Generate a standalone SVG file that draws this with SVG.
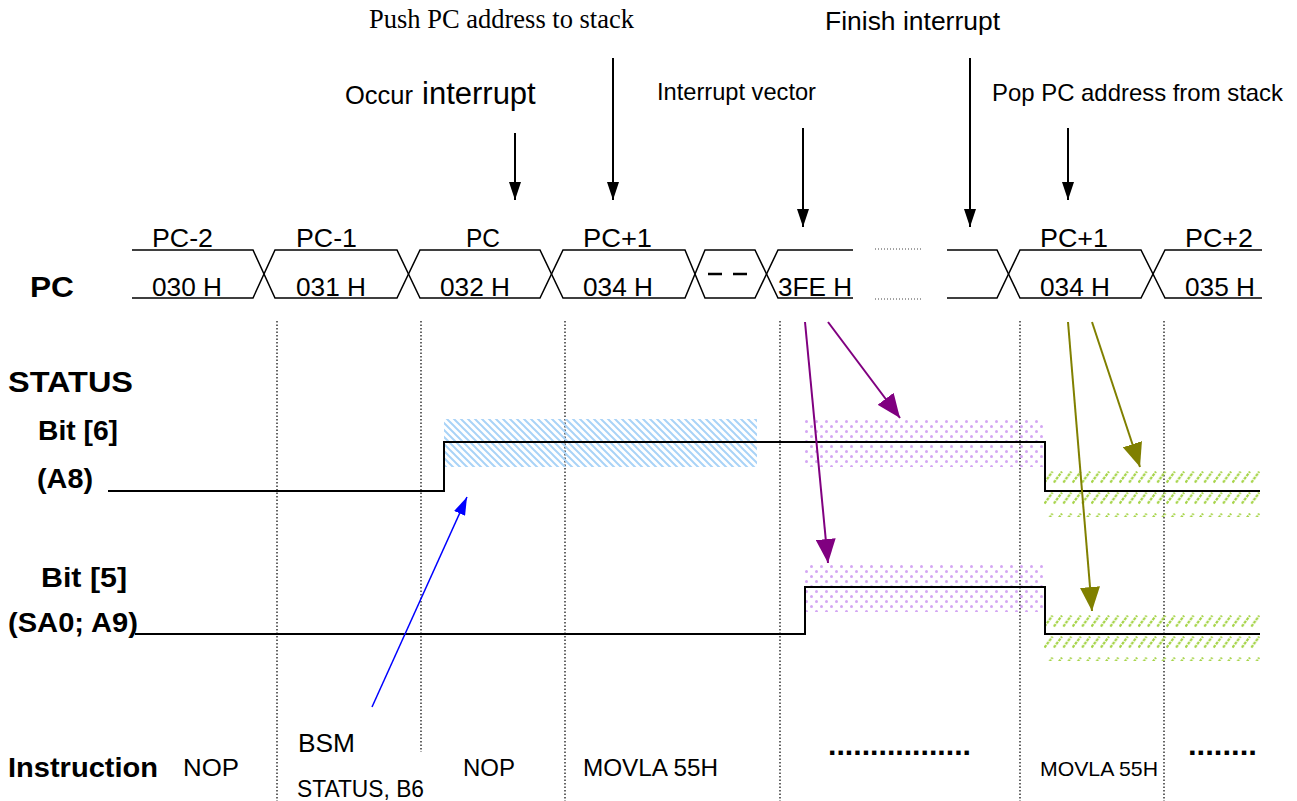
<svg xmlns="http://www.w3.org/2000/svg" width="1297" height="801" viewBox="0 0 1297 801">
<style>
.s{font-family:"Liberation Sans",Arial,sans-serif;fill:#000}
.b{font-family:"Liberation Sans",Arial,sans-serif;font-weight:bold;fill:#000}
.serif{font-family:"Liberation Serif","Times New Roman",serif;fill:#000}
.pc{font-size:26px}
.bl{font-size:28px}
.ins{font-size:24px}
.bus{stroke:#000;stroke-width:1.5;fill:none}
.sig{stroke:#000;stroke-width:2;fill:none}
.grid{stroke:#000;stroke-width:1.2;stroke-dasharray:1.5 2;fill:none}
.dots{stroke:#444;stroke-width:1;stroke-dasharray:1 2;fill:none}
.ak{stroke:#000;stroke-width:2}
</style>
<defs>
<marker id="ahK" markerUnits="userSpaceOnUse" markerWidth="18" markerHeight="12" refX="18" refY="6" orient="auto"><path d="M0,0 L18,6 L0,12 z" fill="#000"/></marker>
<marker id="ahP" markerUnits="userSpaceOnUse" markerWidth="24" markerHeight="20" refX="24" refY="10" orient="auto"><path d="M0,0 L24,10 L0,20 z" fill="#800080"/></marker>
<marker id="ahO" markerUnits="userSpaceOnUse" markerWidth="24" markerHeight="20" refX="24" refY="10" orient="auto"><path d="M0,0 L24,10 L0,20 z" fill="#808000"/></marker>
<marker id="ahB" markerUnits="userSpaceOnUse" markerWidth="18" markerHeight="12" refX="18" refY="6" orient="auto"><path d="M0,0 L18,6 L0,12 z" fill="#0000ff"/></marker>
<pattern id="hatchBlue" patternUnits="userSpaceOnUse" width="7" height="7">
<path d="M-1,-1 L8,8 M-1,6 L1,8 M6,-1 L8,1" stroke="#a9d3f7" stroke-width="2"/>
</pattern>
<pattern id="dotPurple" patternUnits="userSpaceOnUse" width="10" height="10" x="804" y="419">
<circle cx="2.5" cy="2.5" r="1.5" fill="#d4a6f3"/>
<circle cx="7.5" cy="7.5" r="1.5" fill="#d4a6f3"/>
</pattern>
<pattern id="hatchGreen" patternUnits="userSpaceOnUse" width="9.4" height="21" x="1044" y="471">
<path d="M0.5,11.5 L8.5,0.5" stroke="#a6d448" stroke-width="2.2" stroke-dasharray="3 1"/>
</pattern>
<pattern id="hatchGreen2" patternUnits="userSpaceOnUse" width="9.4" height="21" x="1044" y="615">
<path d="M0.5,11.5 L8.5,0.5" stroke="#a6d448" stroke-width="2.2" stroke-dasharray="3 1"/>
</pattern>
</defs>

<g id="grid-lines">
<line class="grid" x1="277" y1="321" x2="277" y2="801"/>
<line class="grid" x1="421" y1="321" x2="421" y2="752"/>
<line class="grid" x1="565" y1="321" x2="565" y2="801"/>
<line class="grid" x1="780" y1="321" x2="780" y2="801"/>
<line class="grid" x1="1020" y1="321" x2="1020" y2="801"/>
<line class="grid" x1="1164" y1="321" x2="1164" y2="801"/>
</g>

<g id="shading">
<rect x="444" y="419" width="313" height="48" fill="url(#hatchBlue)"/>
<rect x="804" y="419" width="239" height="48" fill="url(#dotPurple)"/>
<rect x="804" y="563" width="239" height="49" fill="url(#dotPurple)"/>
<rect x="1044" y="471" width="216" height="46" fill="url(#hatchGreen)"/>
<rect x="1044" y="615" width="216" height="46" fill="url(#hatchGreen2)"/>
</g>

<g id="pc-bus">
<path class="bus" d="M132,250 H253 L275,298 H397 L420,250 H540 L563,298 H685 L705,250 H755 L778,298 H853"/>
<path class="bus" d="M132,298 H253 L275,250 H397 L420,298 H540 L563,250 H685 L705,298 H755 L778,250 H853"/>
<path class="bus" d="M947,250 H997 L1020,298 H1141 L1165,250 H1262"/>
<path class="bus" d="M947,298 H997 L1020,250 H1141 L1165,298 H1262"/>
<line x1="708" y1="274" x2="750" y2="274" stroke="#000" stroke-width="2.6" stroke-dasharray="14 11"/>
<line class="dots" x1="875" y1="249" x2="923" y2="249"/>
<line class="dots" x1="875" y1="299" x2="923" y2="299"/>
<text class="s pc" x="152" y="247" textLength="61" lengthAdjust="spacingAndGlyphs">PC-2</text>
<text class="s pc" x="296" y="247" textLength="61" lengthAdjust="spacingAndGlyphs">PC-1</text>
<text class="s pc" x="466" y="247" textLength="34" lengthAdjust="spacingAndGlyphs">PC</text>
<text class="s pc" x="583" y="247" textLength="69" lengthAdjust="spacingAndGlyphs">PC+1</text>
<text class="s pc" x="1040" y="247" textLength="68" lengthAdjust="spacingAndGlyphs">PC+1</text>
<text class="s pc" x="1185" y="247" textLength="68" lengthAdjust="spacingAndGlyphs">PC+2</text>
<text class="s pc" x="152" y="296" textLength="70" lengthAdjust="spacingAndGlyphs">030 H</text>
<text class="s pc" x="296" y="296" textLength="70" lengthAdjust="spacingAndGlyphs">031 H</text>
<text class="s pc" x="440" y="296" textLength="70" lengthAdjust="spacingAndGlyphs">032 H</text>
<text class="s pc" x="583" y="296" textLength="70" lengthAdjust="spacingAndGlyphs">034 H</text>
<text class="s pc" x="778" y="296" textLength="74" lengthAdjust="spacingAndGlyphs">3FE H</text>
<text class="s pc" x="1040" y="296" textLength="70" lengthAdjust="spacingAndGlyphs">034 H</text>
<text class="s pc" x="1185" y="296" textLength="70" lengthAdjust="spacingAndGlyphs">035 H</text>
</g>

<g id="labels">
<text class="b" x="30" y="297" font-size="29" textLength="44" lengthAdjust="spacingAndGlyphs">PC</text>
<text class="b" x="8" y="392" font-size="30" textLength="125" lengthAdjust="spacingAndGlyphs">STATUS</text>
<text class="b bl" x="38" y="440" textLength="80" lengthAdjust="spacingAndGlyphs">Bit [6]</text>
<text class="b bl" x="37" y="488" textLength="56" lengthAdjust="spacingAndGlyphs">(A8)</text>
<text class="b bl" x="41" y="587" textLength="86" lengthAdjust="spacingAndGlyphs">Bit [5]</text>
<text class="b bl" x="8" y="632" textLength="130" lengthAdjust="spacingAndGlyphs">(SA0; A9)</text>
<text class="b bl" x="8" y="777" textLength="150" lengthAdjust="spacingAndGlyphs">Instruction</text>
</g>

<g id="annotations">
<text class="serif" x="369" y="28" font-size="26.5" textLength="265" lengthAdjust="spacingAndGlyphs">Push PC address to stack</text>
<text class="s" y="104"><tspan x="345" font-size="25.5">Occur</tspan><tspan x="422" font-size="31">interrupt</tspan></text>
<text class="s" x="657" y="100" font-size="24" textLength="159" lengthAdjust="spacingAndGlyphs">Interrupt vector</text>
<text class="s" x="825" y="30" font-size="26.5" textLength="175" lengthAdjust="spacingAndGlyphs">Finish interrupt</text>
<text class="s" x="992" y="101" font-size="24" textLength="291" lengthAdjust="spacingAndGlyphs">Pop PC address from stack</text>
</g>

<g id="status-signals">
<path class="sig" d="M108,491 H444 V442 H1045 V491 H1260"/>
<path class="sig" d="M135,634 H805 V587 H1045 V634 H1260"/>
</g>

<g id="instructions">
<text class="s ins" x="183" y="776" textLength="56" lengthAdjust="spacingAndGlyphs">NOP</text>
<text class="s" x="298" y="752" font-size="25" textLength="57" lengthAdjust="spacingAndGlyphs">BSM</text>
<text class="s ins" x="297" y="797" textLength="127" lengthAdjust="spacingAndGlyphs">STATUS, B6</text>
<text class="s ins" x="463" y="776" textLength="52" lengthAdjust="spacingAndGlyphs">NOP</text>
<text class="s ins" x="583" y="776" textLength="135" lengthAdjust="spacingAndGlyphs">MOVLA 55H</text>
<text class="b" x="828" y="755" font-size="30" textLength="143" lengthAdjust="spacingAndGlyphs">.................</text>
<text class="s" x="1040" y="776" font-size="21" textLength="118" lengthAdjust="spacingAndGlyphs">MOVLA 55H</text>
<text class="b" x="1188" y="755" font-size="30" textLength="69" lengthAdjust="spacingAndGlyphs">........</text>
</g>

<g id="connectors">
<line class="ak" x1="515" y1="133" x2="515" y2="200" marker-end="url(#ahK)"/>
<line class="ak" x1="613" y1="58" x2="613" y2="200" marker-end="url(#ahK)"/>
<line class="ak" x1="803" y1="128" x2="803" y2="227" marker-end="url(#ahK)"/>
<line class="ak" x1="970" y1="58" x2="970" y2="227" marker-end="url(#ahK)"/>
<line class="ak" x1="1068" y1="128" x2="1068" y2="200" marker-end="url(#ahK)"/>
<line x1="805" y1="322" x2="828" y2="563" stroke="#800080" stroke-width="2" marker-end="url(#ahP)"/>
<line x1="828" y1="322" x2="900" y2="418" stroke="#800080" stroke-width="2" marker-end="url(#ahP)"/>
<line x1="1068" y1="322" x2="1092" y2="611" stroke="#808000" stroke-width="2" marker-end="url(#ahO)"/>
<line x1="1092" y1="322" x2="1140" y2="467" stroke="#808000" stroke-width="2" marker-end="url(#ahO)"/>
<line x1="372" y1="707" x2="467" y2="497" stroke="#0000ff" stroke-width="1.5" marker-end="url(#ahB)"/>
</g>
</svg>
